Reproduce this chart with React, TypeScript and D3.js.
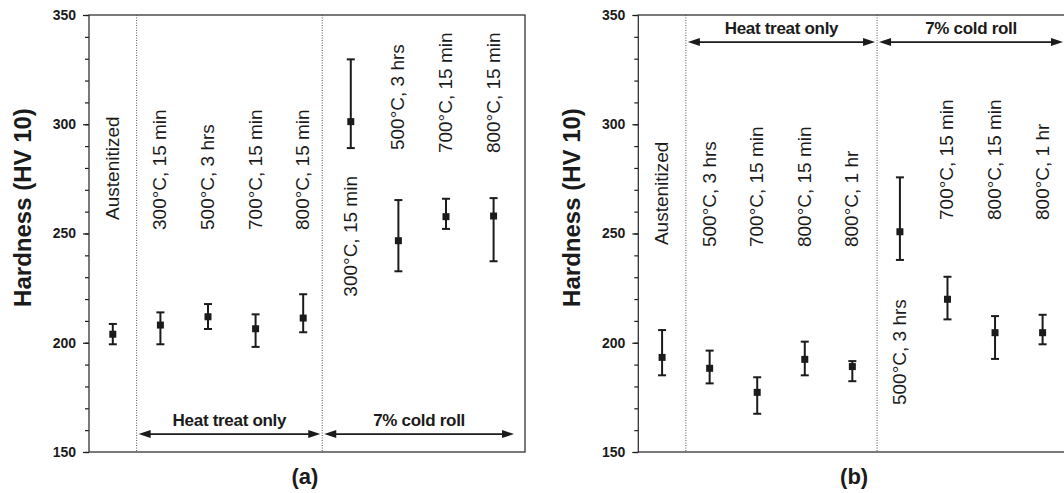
import React, { useEffect, useRef } from 'react'
import * as d3 from 'd3'

// panel (a)
const leftLabels = ['Austenitized', '300°C, 15 min', '500°C, 3 hrs', '700°C, 15 min', '800°C, 15 min',
  '300°C, 15 min', '500°C, 3 hrs', '700°C, 15 min', '800°C, 15 min']
const leftMean = [203.9, 208.1, 211.9, 206.4, 211.3, 301.2, 246.7, 257.7, 258.0]
const leftHigh = [208.6, 213.9, 217.7, 213.0, 222.2, 329.7, 265.3, 265.9, 266.2]
const leftLow = [199.3, 199.3, 206.3, 198.1, 204.8, 289.1, 232.7, 252.1, 237.3]
// hardness value where each rotated label starts
const leftLabelAt = [256.2, 251.6, 251.6, 251.6, 251.6, 221.1, 288.2, 286.8, 286.8]
const leftDividers = [0.5, 4.4]

// panel (b)
const rightLabels = ['Austenitized', '500°C, 3 hrs', '700°C, 15 min', '800°C, 15 min', '800°C, 1 hr',
  '500°C, 3 hrs', '700°C, 15 min', '800°C, 15 min', '800°C, 1 hr']
const rightMean = [193.3, 188.3, 177.3, 192.4, 189.1, 250.8, 219.9, 204.6, 204.6]
const rightHigh = [205.8, 196.4, 184.2, 200.5, 191.6, 275.7, 230.2, 212.2, 212.8]
const rightLow = [185.1, 181.4, 167.5, 185.1, 182.4, 237.9, 210.7, 192.6, 199.3]
const rightLabelAt = [244.7, 243.8, 243.8, 243.8, 243.8, 171.5, 256.2, 256.2, 256.2]
const rightDividers = [0.5, 4.52]

const sectionNames = ['Heat treat only', '7% cold roll']
const majorTicks = [150, 200, 250, 300, 350]

const FONT = '"Liberation Sans", Arial, sans-serif'
const INK = '#1b1b1b'

function arrow(g, xa, xb, y) {
  const len = 12, hw = 4
  g.append('line').attr('x1', xa + len - 1).attr('x2', xb - len + 1).attr('y1', y).attr('y2', y)
    .attr('stroke', INK).attr('stroke-width', 1.6)
  g.append('path').attr('d', `M${xa},${y}L${xa + len},${y - hw}L${xa + len},${y + hw}Z`).attr('fill', INK)
  g.append('path').attr('d', `M${xb},${y}L${xb - len},${y - hw}L${xb - len},${y + hw}Z`).attr('fill', INK)
}

function drawPanel(svg, opt) {
  const { x0, x1, labels, mean, high, low, labelAt, dividers, arrowVal, tag } = opt
  const top = 15, bottom = 452
  const y = d3.scaleLinear().domain([150, 350]).range([bottom, top])
  const x = d3.scaleLinear().domain([-0.5, 8.66]).range([x0, x1])
  const g = svg.append('g')

  // minor ticks
  g.append('g').attr('transform', `translate(${x0},0)`)
    .call(d3.axisLeft(y).tickValues(d3.range(150, 351, 10)).tickSize(4).tickSizeOuter(0).tickFormat(() => ''))
    .call(a => a.select('.domain').remove())
    .selectAll('line').attr('stroke', INK).attr('stroke-width', 1.2)

  const ax = g.append('g').attr('transform', `translate(${x0},0)`)
    .call(d3.axisLeft(y).tickValues(majorTicks).tickSize(6).tickSizeOuter(0).tickPadding(7))
  ax.select('.domain').remove()
  ax.selectAll('line').attr('stroke', INK).attr('stroke-width', 1.2)
  ax.selectAll('text').attr('font-family', FONT).attr('font-size', 14).attr('font-weight', 'bold').attr('fill', INK)

  // frame
  g.append('rect').attr('x', x0).attr('y', top).attr('width', x1 - x0).attr('height', bottom - top)
    .attr('fill', 'none').attr('stroke', '#333').attr('stroke-width', 1.3)

  dividers.forEach(d => {
    g.append('line').attr('x1', x(d)).attr('x2', x(d)).attr('y1', top).attr('y2', bottom)
      .attr('stroke', '#555').attr('stroke-width', 1).attr('stroke-dasharray', '1,1.5')
  })

  // section arrows
  const ay = y(arrowVal)
  const xa = x(dividers[0]), xb = x(dividers[1])
  const sections = [[xa + 2, xb - 2], [xb + 2, x1 - 11]]
  sections.forEach(([s, e], i) => {
    arrow(g, s, e, ay)
    g.append('text').attr('x', (s + e) / 2).attr('y', ay - 8).attr('text-anchor', 'middle')
      .attr('font-family', FONT).attr('font-size', 17).attr('font-weight', 'bold').attr('fill', INK)
      .attr('letter-spacing', -0.3).text(sectionNames[i])
  })

  // error bars
  const pts = g.append('g')
  mean.forEach((m, i) => {
    const cx = x(i)
    pts.append('line').attr('x1', cx).attr('x2', cx).attr('y1', y(high[i])).attr('y2', y(low[i]))
      .attr('stroke', INK).attr('stroke-width', 2)
    ;[high[i], low[i]].forEach(v => {
      pts.append('line').attr('x1', cx - 4).attr('x2', cx + 4).attr('y1', y(v)).attr('y2', y(v))
        .attr('stroke', INK).attr('stroke-width', 2)
    })
    pts.append('rect').attr('x', cx - 3.5).attr('y', y(m) - 3.5).attr('width', 7).attr('height', 7).attr('fill', INK)
    const lx = cx + 6, ly = y(labelAt[i])
    pts.append('text').attr('transform', `translate(${lx},${ly}) rotate(-90)`)
      .attr('font-family', FONT).attr('font-size', 19).attr('fill', INK).text(labels[i])
  })

  // y title
  g.append('text').attr('transform', `translate(${x0 - 58},${(top + bottom) / 2 - 26}) rotate(-90)`)
    .attr('text-anchor', 'middle').attr('font-family', FONT).attr('font-size', 24).attr('font-weight', 'bold')
    .attr('fill', INK).text('Hardness (HV 10)')

  g.append('text').attr('x', (x0 + x1) / 2 - 2).attr('y', 484).attr('text-anchor', 'middle')
    .attr('font-family', FONT).attr('font-size', 22).attr('font-weight', 'bold').attr('fill', INK).text(tag)
}

export default function App() {
  const ref = useRef(null)
  useEffect(() => {
    const svg = d3.select(ref.current)
    svg.selectAll('*').remove()
    drawPanel(svg, {
      x0: 89, x1: 525, labels: leftLabels, mean: leftMean, high: leftHigh, low: leftLow,
      labelAt: leftLabelAt, dividers: leftDividers, arrowVal: 158.2, tag: '(a)'
    })
    drawPanel(svg, {
      x0: 638.3, x1: 1074, labels: rightLabels, mean: rightMean, high: rightHigh, low: rightLow,
      labelAt: rightLabelAt, dividers: rightDividers, arrowVal: 337.6, tag: '(b)'
    })
  }, [])
  return (
    <svg ref={ref} width={1064} height={493}
      style={{ position: 'absolute', left: 0, top: 0, background: '#fff' }} />
  )
}
